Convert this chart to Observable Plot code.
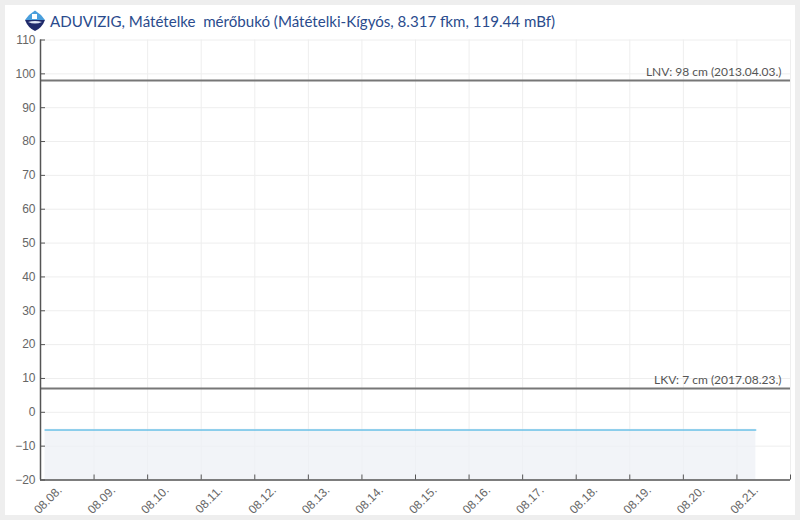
<!DOCTYPE html>
<html>
<head>
<meta charset="utf-8">
<script src="https://cdn.jsdelivr.net/npm/d3@7"></script>
<script src="https://cdn.jsdelivr.net/npm/@observablehq/plot@0.6"></script>
<style>
html,body{margin:0;padding:0;background:#eee;}
#panel{position:absolute;left:5px;top:5px;width:790px;height:510px;background:#fff;}
#title{position:absolute;left:24px;top:10px;height:22px;display:flex;align-items:center;font:15.1px Lato,sans-serif;color:#2a4b8d;white-space:pre;}
#title svg{margin-right:4px;}
#chart{position:absolute;left:0;top:30px;}
</style>
</head>
<body>
<div id="panel"></div>
<div id="title"><svg width="22" height="22" viewBox="0 0 22 22"><path d="M11 0.5Q17 4 21 10L1 10Q5 4 11 0.5Z" fill="#4a9fdc"/><path d="M1 10H21Q18 18 11 21Q4 18 1 10Z" fill="#1f2a6b"/><path d="M8 4h5v5H8z" fill="#fff"/><path d="M4 12q7-2 14 0q-7 3-14 0z" fill="#dfe6f5"/></svg><span>ADUVIZIG, Mátételke  mérőbukó (Mátételki-Kígyós, 8.317 fkm, 119.44 mBf)</span></div>
<div id="chart"></div>
<script>
const dayLabels = ["08.08.","08.09.","08.10.","08.11.","08.12.","08.13.","08.14.","08.15.","08.16.","08.17.","08.18.","08.19.","08.20.","08.21.","08.22."];
const yTicks = [-20,-10,0,10,20,30,40,50,60,70,80,90,100,110];
const levelDates = ["2023-08-08T02:00Z","2023-08-21T08:30Z"];
const levelValues = [-5,-5];
const refValues = [98,7];
const refLabels = ["LNV: 98 cm (2013.04.03.)","LKV: 7 cm (2017.08.23.)"];

const days = dayLabels.map(s => new Date(`2023-${s.slice(0,2)}-${s.slice(3,5)}T00:00Z`));
const shownDays = days.slice(0,-1);
const levels = levelDates.map((d,i) => ({date:new Date(d), value:levelValues[i]}));
const refs = refValues.map((v,i) => ({value:v,label:refLabels[i]}));
const grey = "#555";

const chart = Plot.plot({
  width: 800, height: 489,
  marginTop: 9.5, marginBottom: 39.5, marginLeft: 40, marginRight: 10,
  style: {background:"transparent", fontFamily:"'Liberation Sans',Arial,sans-serif", fontSize:"12px", color:"#666"},
  x: {type:"utc", domain:[days[0],days[days.length-1]]},
  y: {domain:[-20,110]},
  marks: [
    Plot.ruleX(days, {stroke:"#eeeeee", strokeWidth:1}),
    Plot.ruleY(yTicks, {stroke:"#eeeeee", strokeWidth:1}),
    Plot.areaY(levels, {x:"date", y1:-20, y2:"value", fill:"#eef0f6", fillOpacity:0.75}),
    Plot.lineY(levels, {x:"date", y:"value", stroke:"#2aa9df", strokeWidth:1, dy:0.8}),
    Plot.ruleY(refs, {y:"value", stroke:"#777", strokeWidth:2}),
    Plot.text(refs, {y:"value", text:"label", frameAnchor:"right", textAnchor:"end", dx:-9, dy:-8, fill:"#555", fontFamily:"Lato,sans-serif", fontSize:12}),
    Plot.ruleX([days[0]], {stroke:grey, strokeWidth:1.5}),
    Plot.ruleY([-20], {stroke:grey, strokeWidth:1.5}),
    Plot.axisY({ticks:yTicks, tickSize:-5, stroke:grey, tickPadding:10, label:null, fill:"#666", fontSize:12}),
    Plot.axisX({ticks:days, tickSize:-5, stroke:grey, tickFormat:()=>"", label:null}),
    Plot.text(shownDays, {x:d=>d, text:(d,i)=>dayLabels[i], frameAnchor:"bottom", rotate:-45, textAnchor:"end", dx:22, dy:11, fill:"#666", fontSize:12})
  ]
});
document.getElementById("chart").appendChild(chart);
</script>
</body>
</html>
